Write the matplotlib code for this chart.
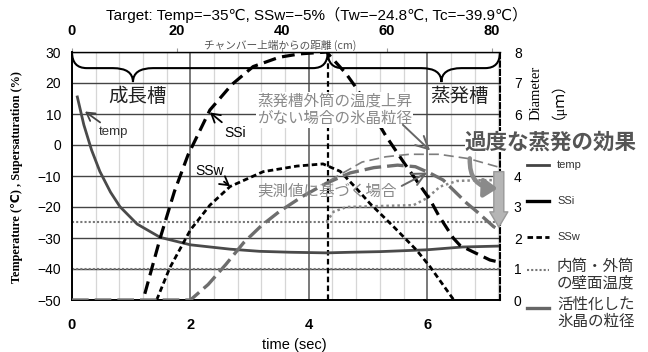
import matplotlib
matplotlib.use("Agg")
from matplotlib import pyplot as plt
from matplotlib.path import Path
from matplotlib.patches import PathPatch, FancyArrowPatch
from matplotlib.lines import Line2D
from matplotlib.ticker import MultipleLocator

plt.rcParams['font.family'] = ['Liberation Sans', 'DejaVu Sans', 'Noto Sans CJK JP']
JP = ['Noto Sans CJK JP', 'DejaVu Sans']

# values
temp_t = [0.09, 0.2, 0.33, 0.47, 0.65, 0.81, 1.1, 1.49, 2.0, 2.67, 3.17, 3.7, 4.3, 4.7, 5.2, 5.6, 6.0, 6.6, 7.23]
temp_v = [15.5, 6.5, -1.6, -8.5, -15.2, -19.9, -25.5, -29.8, -32.2, -33.6, -34.3, -34.6, -34.8, -34.6, -34.4,
          -34.1, -33.8, -32.9, -32.6]

ssi_t = [1.23, 1.49, 1.73, 1.96, 2.33, 2.7, 3.06, 3.5, 3.85, 4.3, 4.63, 4.78, 5.05, 5.3, 5.6, 6.05, 6.19, 6.44,
         6.55, 6.65, 7.06, 7.22]
ssi_v = [-48, -30, -15, -3.2, 11.3, 19.5, 25.3, 28.3, 29.4, 30, 23, 19, 11, 3, -5.5, -17.7, -22.6, -30, -32.3,
         -33.3, -37.1, -37.8]

ssw_t = [1.43, 1.65, 2.0, 2.33, 2.67, 3.23, 3.8, 4.24, 4.53, 4.78, 5.03, 5.43, 5.82, 6.05, 6.45]
ssw_v = [-50, -39.7, -27.4, -19.4, -13.4, -8.6, -6.8, -6.1, -8.5, -13.5, -18.8, -26.3, -33.9, -39.3, -50]

# diameter (um), right axis
dia_t = [0, 2.0, 2.3, 2.6, 2.9, 3.2, 3.5, 3.9, 4.3, 4.7, 5.1, 5.5, 5.8, 6.05, 6.27, 6.44, 6.67, 6.84, 7.12, 7.22]
dia_v = [0, 0, 0.5, 1.15, 1.85, 2.4, 2.85, 3.35, 3.77, 4.1, 4.27, 4.35, 4.3, 4.09, 3.87, 3.55, 3.12, 2.85, 2.37, 2.25]

noheat_t = [4.35, 4.9, 5.3, 5.7, 6.2, 6.7, 7.22]
noheat_v = [3.85, 4.45, 4.62, 4.7, 4.7, 4.56, 4.28]

# wall temperatures
tw = -24.8
tc = -39.9
wall_t = [4.3, 4.42, 4.64, 5.0, 5.77, 5.99, 6.22, 6.5, 6.8, 7.22]
wall_v = [-24.8, -21.5, -20, -19.8, -19.4, -17.2, -13.4, -11.6, -11.4, -11.3]

boundary_t = 4.32      # growth / evaporation section boundary
t_max = 7.23
cm_per_sec = 11.28

title = "Target: Temp=−35℃, SSw=−5%（Tw=−24.8℃, Tc=−39.9℃）"

W, H = 648, 352


def fx(px):
    return px / W


def fy(py):
    return 1 - py / H


def brace(ax, xa, xb, xt, y0=30, y1=24.8, y2=20.3, rx=0.25, rt=0.34):
    verts = [(xa, y0), (xa, y1), (xa + rx, y1), (xt - rt, y1), (xt, y1), (xt, y2),
             (xt, y1), (xt + rt, y1), (xb - rx, y1), (xb, y1), (xb, y0)]
    codes = [Path.MOVETO, Path.CURVE3, Path.CURVE3, Path.LINETO, Path.CURVE3, Path.CURVE3,
             Path.CURVE3, Path.CURVE3, Path.LINETO, Path.CURVE3, Path.CURVE3]
    ax.add_patch(PathPatch(Path(verts, codes), fc='none', ec='black', lw=1.5, zorder=4, clip_on=False))


fig = plt.figure(figsize=(6.48, 3.52), dpi=100)
ax = fig.add_axes([fx(72), fy(300), 428 / W, 248 / H])
ax.set_xlim(0, t_max)
ax.set_ylim(-50, 30)

ax.xaxis.set_major_locator(MultipleLocator(2))
ax.xaxis.set_minor_locator(MultipleLocator(0.4))
ax.yaxis.set_major_locator(MultipleLocator(10))
ax.grid(which='minor', axis='x', color='#d6d6d6', lw=0.9)
ax.grid(which='major', axis='x', color='#555555', lw=1.1)
ax.grid(which='major', axis='y', color='#444444', lw=1.0)
ax.set_axisbelow(True)
ax.tick_params(which='both', length=0)
ax.tick_params(axis='x', pad=13)
ax.tick_params(axis='y', pad=8, labelsize=10)
ax.set_xticks([0, 2, 4, 6])
ax.set_xticklabels(['0', '2', '4', '6'], fontweight='bold', fontsize=10.5)
for s in ['left', 'bottom']:
    ax.spines[s].set_linewidth(1.4)
ax.spines['right'].set_visible(False)
ax.spines['top'].set_linewidth(1.0)

# wall temperatures
ax.axhline(tw, color='#777777', lw=1.5, ls=(0, (1, 1)), zorder=2)
ax.axhline(tc, color='#777777', lw=1.5, ls=(0, (1, 1)), zorder=2)
ax.plot(wall_t, wall_v, color='#888888', lw=1.8, ls=(0, (1, 1.2)), zorder=2)

ax.axvline(boundary_t, color='black', lw=1.6, ls=(0, (2.5, 1.5)), zorder=3)

ax.plot(temp_t, temp_v, color='#4a4a4a', lw=2.0, zorder=3)
ax.plot(ssi_t, ssi_v, color='black', lw=2.3, ls=(0, (4, 2)), zorder=3)
ax.plot(ssw_t, ssw_v, color='black', lw=2.0, ls=(0, (2, 1.2)), zorder=3)

brace(ax, 0, boundary_t, 1.03)
brace(ax, boundary_t, t_max, 6.24)

ax2 = ax.twinx()
ax2.set_ylim(0, 8)
ax2.set_yticks([0, 1, 2, 3, 4, 6, 7, 8])   # 5 sits under the big annotation
ax2.tick_params(length=0, pad=10, labelsize=10)
for s in ['left', 'bottom', 'top']:
    ax2.spines[s].set_visible(False)
ax2.spines['right'].set_linestyle((0, (2.5, 1.5)))
ax2.spines['right'].set_linewidth(1.5)
ax2.plot(dia_t, dia_v, color='#6e6e6e', lw=2.4, ls=(0, (5, 1.8)), zorder=3)
ax2.plot(noheat_t, noheat_v, color='#7d7d7d', lw=1.2, ls=(0, (6, 3)), zorder=3)

# top axis: distance from chamber top
sec = ax.secondary_xaxis('top', functions=(lambda t: t * cm_per_sec, lambda d: d / cm_per_sec))
sec.set_xticks([0, 20, 40, 60, 80])
sec.set_xticklabels(['0', '20', '40', '60', '80'], fontweight='bold', fontsize=10.5)
sec.tick_params(length=3, color='#999999', pad=7)
sec.spines['top'].set_visible(False)

# section labels
ax.text(1.1, 15.5, '成長槽', family=JP, fontsize=14, ha='center', va='center', color='#222222')
ax.text(6.55, 15.5, '蒸発槽', family=JP, fontsize=14, ha='center', va='center', color='#222222')

# gray notes sit above the diameter curves, so they go on ax2 in ax data coordinates
ax2.text(3.125, 11.3, '蒸発槽外筒の温度上昇\nがない場合の氷晶粒径', family=JP, fontsize=11.2,
         ha='left', va='center', color='#8a8a8a', linespacing=1.0, zorder=6, transform=ax.transData,
         bbox=dict(fc='white', ec='none', pad=0.5))
ax2.text(3.125, -14.8, '実測値に基づく場合', family=JP, fontsize=11.2, ha='left', va='center',
         color='#8a8a8a', zorder=6, transform=ax.transData)
gray_arrow = dict(arrowstyle='->,head_length=0.9,head_width=0.45', color='#666666', lw=1.4,
                  shrinkA=0, shrinkB=0)
ax2.annotate('', xy=(6.05, -1.8), xytext=(5.59, 6.5), xycoords=ax.transData, arrowprops=gray_arrow, zorder=6)
ax2.annotate('', xy=(6.0, -8.9), xytext=(5.57, -13.2), xycoords=ax.transData, arrowprops=gray_arrow, zorder=6)

label_arrow = dict(arrowstyle='->,head_length=0.6,head_width=0.35', color='black', lw=1.3,
                   shrinkA=1, shrinkB=0)
ax.annotate('temp', xy=(0.22, 10.8), xytext=(0.7, 4.2), fontsize=9.5, ha='center', va='center',
            color='#333333', arrowprops=dict(label_arrow, color='#444444'), zorder=6)
ax.annotate('SSi', xy=(2.33, 10.5), xytext=(2.75, 3.9), fontsize=10, ha='center', va='center',
            arrowprops=label_arrow, zorder=6)
ax.annotate('SSw', xy=(2.67, -13.3), xytext=(2.33, -8.4), fontsize=10, ha='center', va='center',
            arrowprops=label_arrow, zorder=6)

# excess evaporation effect
ax2.text(8.09, 5.11, '過度な蒸発の効果', family=JP, fontsize=15.5, fontweight='bold', color='#555555',
         ha='center', va='center', clip_on=False, zorder=7, bbox=dict(fc='white', ec='none', pad=0))
block = FancyArrowPatch((7.21, 4.14), (7.21, 2.35), arrowstyle='simple,head_length=1.1,head_width=1.3,tail_width=0.72',
                        mutation_scale=10, fc='#b5b5b5', ec='#999999', lw=1, shrinkA=0, shrinkB=0,
                        clip_on=False, zorder=7)
ax2.add_patch(block)
curve = FancyArrowPatch((6.72, 4.57), (7.19, 3.6), connectionstyle='arc3,rad=0.5',
                        arrowstyle='-|>,head_length=0.8,head_width=0.55', mutation_scale=10,
                        color='#8a8a8a', lw=3.2, shrinkA=0, shrinkB=0, clip_on=False, zorder=8)
ax2.add_patch(curve)

# texts around the axes
fig.text(fx(317), fy(15), title, ha='center', va='center', fontsize=11)
fig.text(fx(280), fy(45), 'チャンバー上端からの距離 (cm)', family=JP, ha='center', va='center',
         fontsize=7.7, color='#555555')
fig.text(fx(294), fy(345), 'time (sec)', ha='center', va='center', fontsize=10.5)
fig.text(fx(17), fy(177), 'Temperature (℃) , Supersaturation (%)', rotation=90, ha='center', va='center',
         fontsize=8.8, fontweight='bold', family=['Liberation Serif', 'DejaVu Sans'])
fig.text(fx(544), fy(93), 'Diameter\n（μｍ）', rotation=90, ha='center', va='center', fontsize=10.5,
         linespacing=1.0, family=['Liberation Serif', 'Noto Sans CJK JP'])

# legend, drawn by hand
legend_rows = [
    ('temp', dict(color='#444444', lw=2.0), 165, 165, 8, None),
    ('SSi', dict(color='black', lw=2.4), 201, 201, 8, None),
    ('SSw', dict(color='black', lw=2.0, ls=(0, (2, 1.2))), 237, 237, 8, None),
    ('内筒・外筒\nの壁面温度', dict(color='#777777', lw=1.5, ls=(0, (1, 1))), 270, 275, 11.2, JP),
    ('活性化した\n氷晶の粒径', dict(color='#666666', lw=2.4), 308, 313, 11.2, JP),
]
for label, style, ly, ty, size, fam in legend_rows:
    fig.add_artist(Line2D([fx(527), fx(549)], [fy(ly), fy(ly)], transform=fig.transFigure, **style))
    kw = dict(family=fam) if fam else {}
    fig.text(fx(557), fy(ty), label, ha='left', va='center', fontsize=size, linespacing=1.0,
             color='#333333', **kw)

plt.savefig("out.png", dpi=100)
